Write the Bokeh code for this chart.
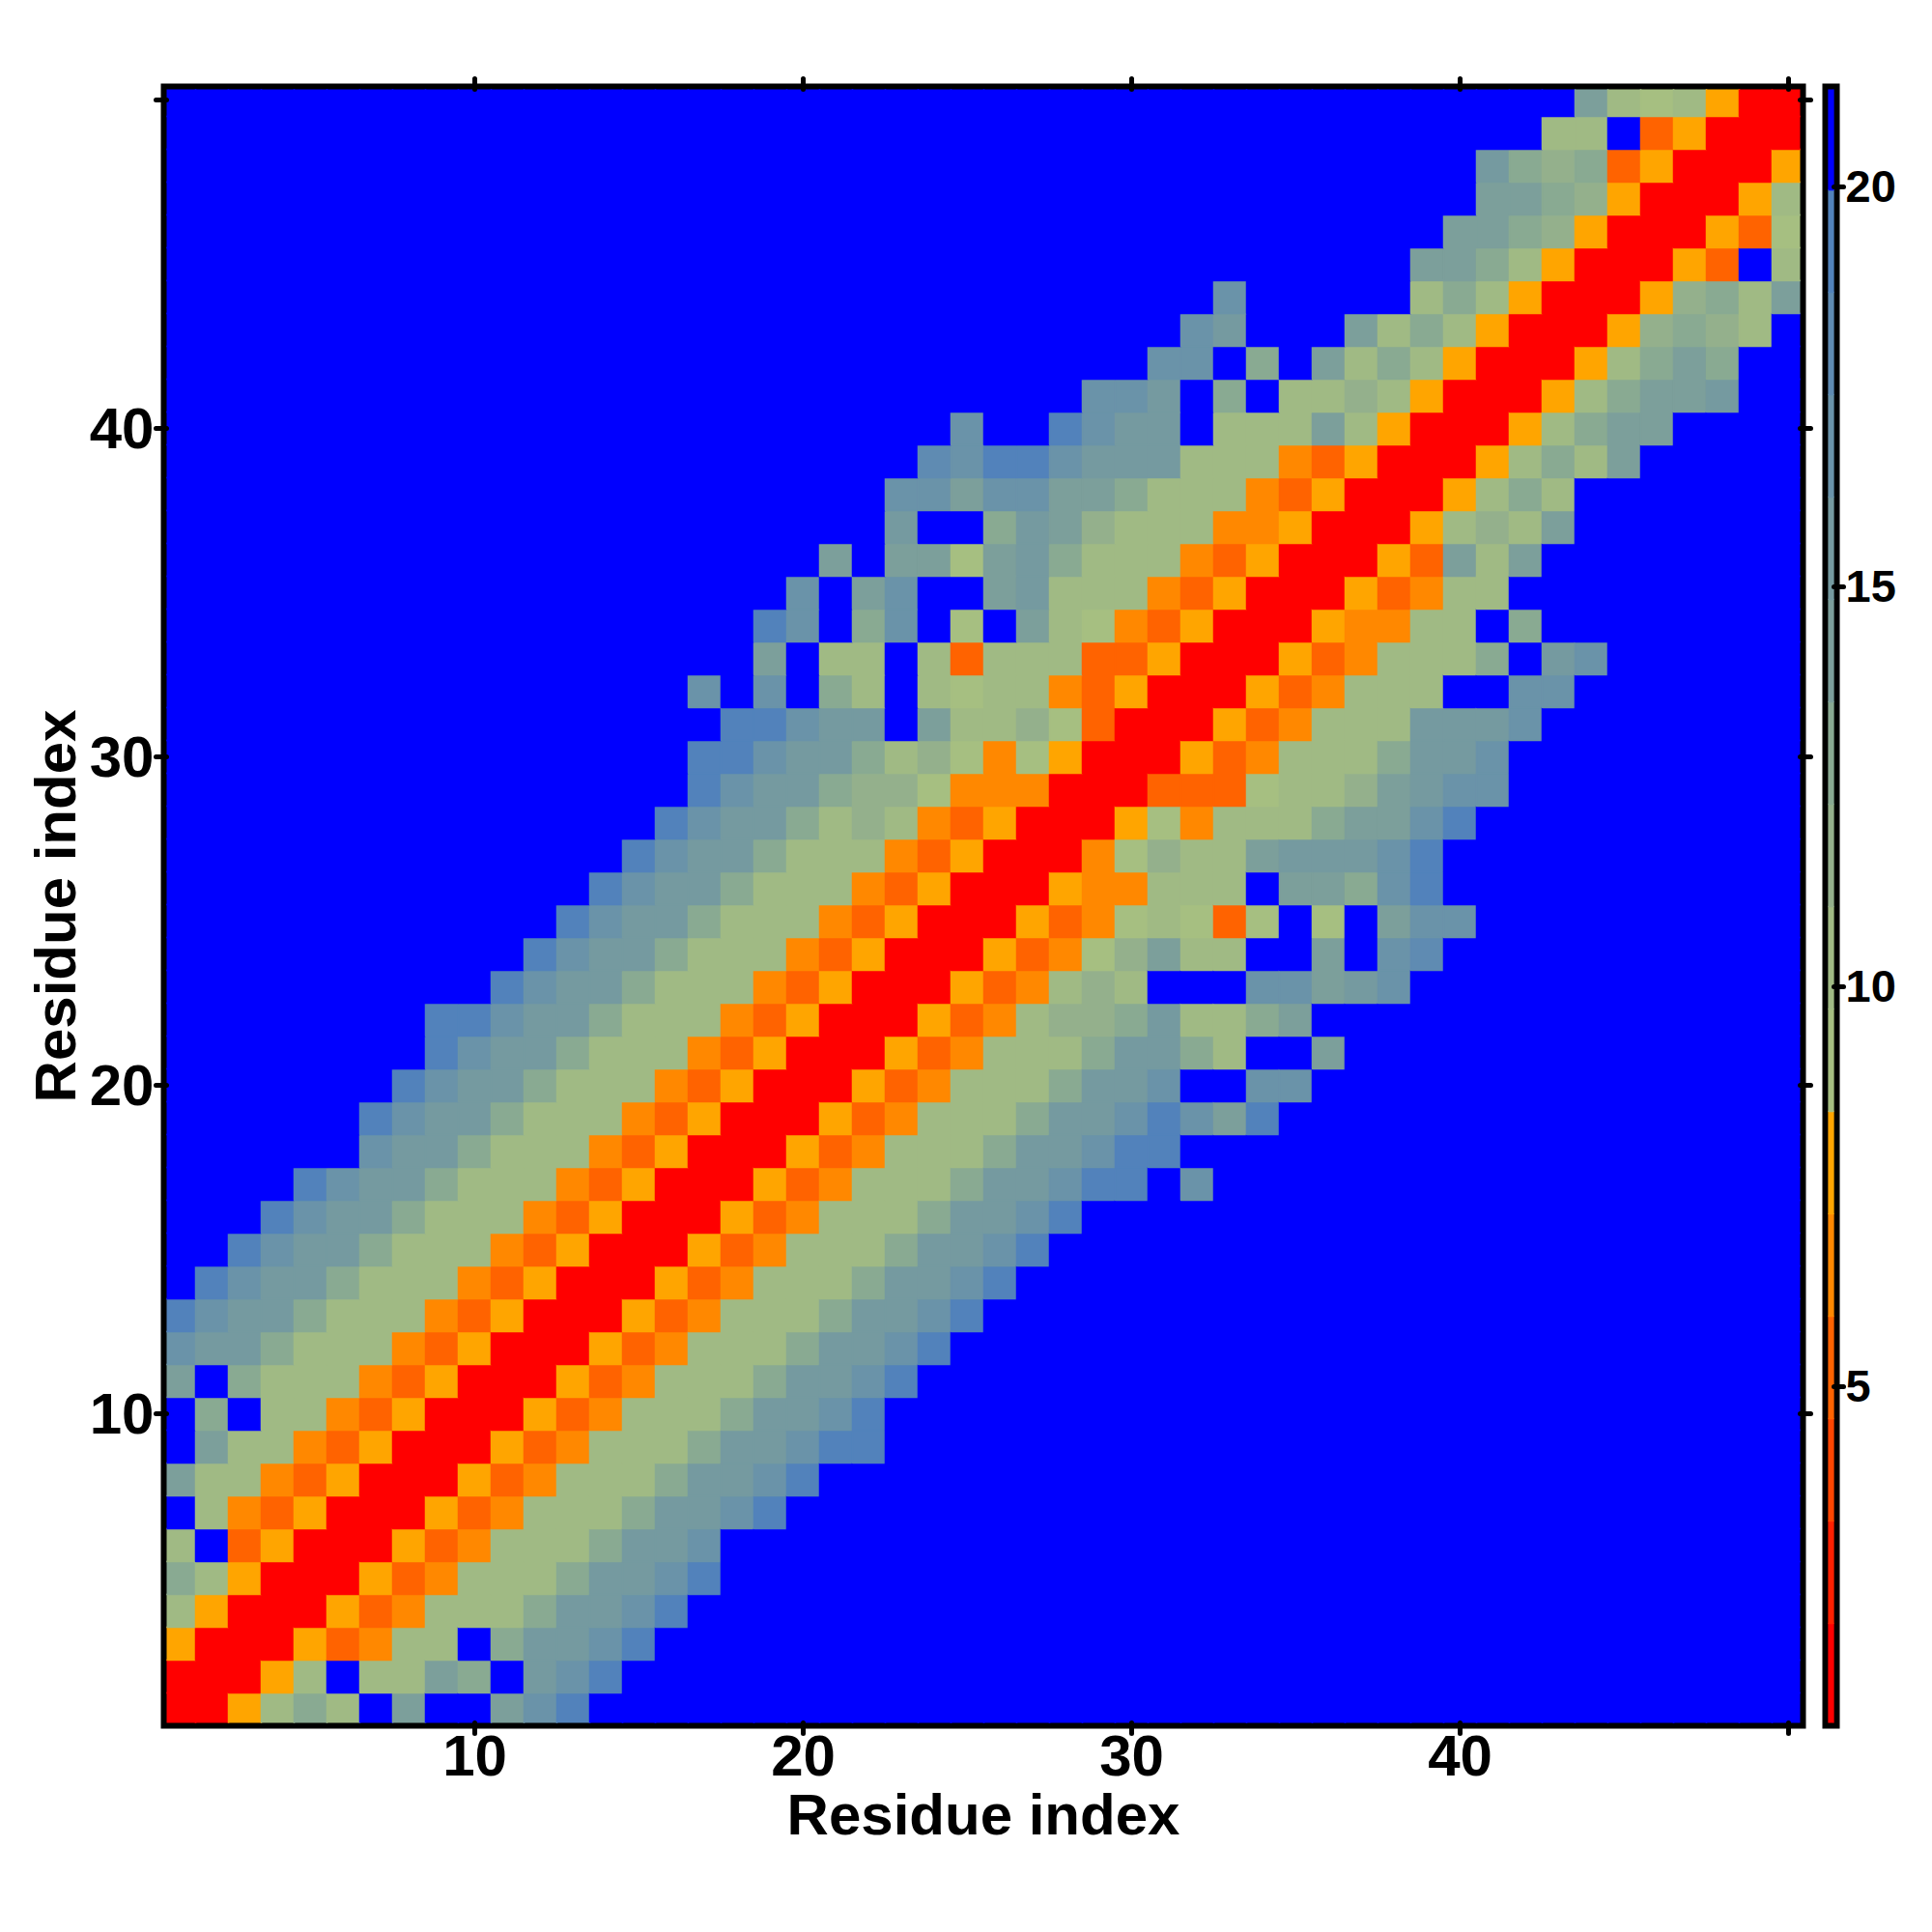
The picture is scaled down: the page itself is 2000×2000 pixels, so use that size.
from bokeh.embed import file_html
from bokeh.layouts import row
from bokeh.models import FixedTicker, LinearAxis, LinearColorMapper, ColumnDataSource
from bokeh.plotting import figure
from bokeh.resources import INLINE
from bokeh.transform import transform

# Lower triangle of the symmetric residue distance map: one hex digit per cell
# gives the colour band (0 = lowest, f = above the top of the scale).
band_rows = [
    "0",
    "00",
    "500",
    "7500",
    "97500",
    "7f3500",
    "f743500",
    "a7743500",
    "fa7743500",
    "f9f7743500",
    "af977743500",
    "cbb977743500",
    "ecbb977743500",
    "f" * 1 + "ecbb977743500",
    "f" * 2 + "ecbb977743500",
    "f" * 3 + "ecbb977743500",
    "f" * 4 + "ecbb977743500",
    "f" * 6 + "cbb977743500",
    "f" * 6 + "ecbb977743500",
    "f" * 7 + "ecbb977743500",
    "f" * 8 + "ecbb977743500",
    "f" * 8 + "eecbb977743500",
    "f" * 10 + "ecbb977743500",
    "f" * 11 + "ecbb977743500",
    "f" * 12 + "ecbb977743500",
    "f" * 13 + "ecbb977743500",
    "f" * 14 + "ecbb977743500",
    "f" * 15 + "ecbb978743500",
    "f" * 16 + "ecbb988644400",
    "f" * 16 + "eecbb978646500",
    "f" * 17 + "eecbbfa7786300",
    "f" * 16 + "cfcf97f767743500",
    "f" * 18 + "af77f737773" + "3500",
    "f" * 18 + "ecf9cf6fa7643500",
    "f" * 19 + "cfacffab77743500",
    "f" * 20 + "afaa6ab977743500",
    "f" * 22 + "bff9ba877744500",
    "f" * 22 + "ccaccaa977743500",
    "f" * 23 + "dceecbbb77743500",
    "f" * 24 + "cffecbbf777a7500",
    "f" * 28 + "ccbf9f7787500",
    "f" * 30 + "ccf9fa797500",
    "f" * 31 + "cbfffa797500",
    "f" * 32 + "cfffff797500",
    "f" * 38 + "aa97500",
    "f" * 39 + "aa98500",
    "f" * 40 + "aa98500",
    "f" * 40 + "b9893500",
    "f" * 42 + "77f3500",
    "f" * 43 + "a767500",
]

band_palette = ["#FF0000", "#FF2000", "#FF4500", "#FF6300", "#FF8800", "#FFA500",
                "#A6BF81", "#A0BA84", "#94B08C", "#89AA92", "#7C9F9B", "#759AA0",
                "#6A93A9", "#5F8BB2", "#5282BB", "#0000FF"]
scale_low = 0.76
scale_high = 21.24
main_ticks = [10, 20, 30, 40, 50]
main_tick_labels = {10: "10", 20: "20", 30: "30", 40: "40", 50: ""}
scale_ticks = [5, 10, 15, 20]
axis_title = "Residue index"

bad = [(i + 1, len(r)) for i, r in enumerate(band_rows) if len(r) != i + 1]
assert not bad, bad

band_width = (scale_high - scale_low) / len(band_palette)
FONT = "Liberation Sans"

xs, ys, vals = [], [], []
for r, text in enumerate(band_rows, start=1):
    for c, ch in enumerate(text, start=1):
        v = scale_low + (int(ch, 16) + 0.5) * band_width
        xs.append(c); ys.append(r); vals.append(v)
        if c != r:
            xs.append(r); ys.append(c); vals.append(v)

mapper = LinearColorMapper(palette=band_palette, low=scale_low, high=scale_high)
src = ColumnDataSource(dict(x=xs, y=ys, v=vals))

x_limits = (0.6176, 50.353)
y_limits = (0.5882, 50.3235)
p = figure(output_backend="svg", toolbar_location=None,
           frame_width=1691, frame_height=1691,
           x_range=x_limits, y_range=y_limits,
           min_border_left=172, min_border_top=92, min_border_right=17,
           min_border_bottom=128, background_fill_color="#0000FF",
           outline_line_color="black", outline_line_width=12,
           outline_line_join="miter",
           x_axis_location=None, y_axis_location=None)
p.grid.visible = False
p.rect("x", "y", width=1, height=1, source=src,
       fill_color=transform("v", mapper), line_color=transform("v", mapper), line_width=1.5)


def style(ax, labels=True):
    ax.ticker = FixedTicker(ticks=main_ticks)
    ax.axis_line_color = None
    ax.minor_tick_line_color = None
    ax.major_tick_in = 0
    ax.major_tick_out = 11
    ax.major_tick_line_width = 5
    ax.major_tick_line_cap = "round"
    ax.major_tick_line_color = "black"
    if labels:
        ax.major_label_overrides = main_tick_labels
        ax.major_label_text_font = FONT
        ax.major_label_text_font_style = "bold"
        ax.major_label_text_font_size = "60px"
        ax.major_label_text_color = "black"
        ax.major_label_standoff = 2
        ax.axis_label = axis_title
        ax.axis_label_text_font = FONT
        ax.axis_label_text_font_style = "bold"
        ax.axis_label_text_font_size = "60px"
        ax.axis_label_text_color = "black"
        ax.axis_label_standoff = 4
    else:
        ax.major_label_text_color = None
        ax.major_label_standoff = 0


for side, lab in (("below", True), ("left", True), ("above", False), ("right", False)):
    a = LinearAxis()
    style(a, lab)
    if side == "left":
        a.axis_label_standoff = -1
    p.add_layout(a, side)

cb = figure(output_backend="svg", toolbar_location=None,
            frame_width=6, frame_height=1691,
            x_range=(0, 1), y_range=(0.796, 21.216),
            min_border_left=12, min_border_top=92, min_border_right=96,
            min_border_bottom=128,
            outline_line_color="black", outline_line_width=12,
            outline_line_join="miter",
            x_axis_location=None, y_axis_location=None)
cb.grid.visible = False
edges = [scale_low + k * band_width for k in range(len(band_palette) + 1)]
cb.quad(left=0, right=1, bottom=edges[:-1], top=edges[1:],
        fill_color=band_palette, line_color=band_palette, line_width=1.5)
cax = LinearAxis(ticker=FixedTicker(ticks=scale_ticks))
cax.axis_line_color = None
cax.minor_tick_line_color = None
cax.major_tick_in = 0
cax.major_tick_out = 10
cax.major_tick_line_width = 5
cax.major_tick_line_cap = "round"
cax.major_tick_line_color = "black"
cax.major_label_text_font = FONT
cax.major_label_text_font_style = "bold"
cax.major_label_text_font_size = "47px"
cax.major_label_text_color = "black"
cax.major_label_standoff = 2
cb.add_layout(cax, "right")

layout = row(p, cb, spacing=0)
open("out.html", "w").write(file_html(layout, INLINE))
